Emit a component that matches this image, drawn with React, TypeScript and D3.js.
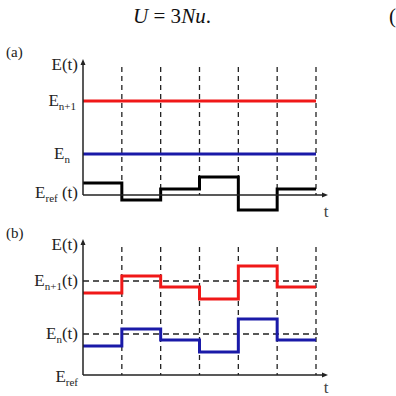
import React from 'react';
import * as d3 from 'd3';

// reference energy fluctuation per time interval (units above E_ref baseline)
const eRef = [1.2, -0.5, 0.6, 1.8, -1.5, 0.6];
const levelN = 4.1;
const levelN1 = 9.4;
const intervalCount = 6;

const W = 396;
const H = 396;

const RED = '#f01818';
const BLUE = '#1a1aa8';
const INK = '#222';

const x = d3.scaleLinear().domain([0, intervalCount]).range([83, 316]);
const yA = d3.scaleLinear().domain([0, 13.5]).range([195, 60]);
const yB = d3.scaleLinear().domain([0, 13.5]).range([375, 240]);

const stepPts = (vals: number[]) => [...vals.map((v, i) => [i, v] as [number, number]), [vals.length, vals[vals.length - 1]] as [number, number]];

const stepLine = (y: d3.ScaleLinear<number, number>) =>
    d3.line<[number, number]>().x(d => x(d[0])).y(d => y(d[1])).curve(d3.curveStepAfter);

const serif = '"Liberation Serif", Tinos, "DejaVu Serif", serif';

const Label = ({ xr, y, main, sub, tail }: { xr: number; y: number; main: string; sub?: string; tail?: string }) => (
    <text x={xr} y={y + 5} textAnchor="end" fontFamily={serif} fontSize={17} fill={INK}>
        {main}
        {sub && <tspan fontSize={11} dy={4}>{sub}</tspan>}
        {tail && <tspan dy={sub ? -4 : 0}>{tail}</tspan>}
    </text>
);

const Panel = ({ y, tag, tagY, tY, children }: { y: d3.ScaleLinear<number, number>; tag: string; tagY: number; tY: number; children: React.ReactNode }) => {
    const y0 = y(0);
    const yTop = y(13.5);
    const ticks = d3.range(1, intervalCount + 1);
    return (
        <g>
            <text x={6} y={tagY} fontFamily={serif} fontSize={15} fill={INK}>{tag}</text>
            {/* dashed interval separators */}
            {ticks.map(t => (
                <line key={t} x1={x(t)} x2={x(t)} y1={yTop + 7} y2={y0} stroke={INK} strokeWidth={1.3} strokeDasharray="5,4" />
            ))}
            {children}
            {/* axes */}
            <line x1={x(0)} x2={x(0)} y1={y0} y2={yTop + 2} stroke={INK} strokeWidth={1.5} />
            <path d={`M${x(0) - 2.5},${yTop + 5} L${x(0)},${yTop - 1} L${x(0) + 2.5},${yTop + 5} Z`} fill={INK} />
            <line x1={x(0)} x2={325} y1={y0} y2={y0} stroke={INK} strokeWidth={1.5} />
            <path d={`M${322},${y0 - 2.5} L${328},${y0} L${322},${y0 + 2.5} Z`} fill={INK} />
            <text x={326} y={tY} fontFamily={serif} fontSize={17} fill="#444" textAnchor="middle">t</text>
            <Label xr={78} y={yTop + 5} main="E(t)" />
        </g>
    );
};

const App = () => {
    const bRed = eRef.map(v => levelN1 - v);
    const bBlue = eRef.map(v => levelN - v);
    return (
        <svg width={W} height={H} style={{ position: 'absolute', left: 0, top: 0, background: '#fff' }}>
            <text x={172} y={23} textAnchor="middle" fontFamily={serif} fontSize={21} fill="#111">
                <tspan fontStyle="italic">U</tspan> =  3<tspan fontStyle="italic">Nu</tspan>.
            </text>
            <text x={389} y={23} fontFamily={serif} fontSize={21} fill="#111">(</text>

            <Panel y={yA} tag="(a)" tagY={57} tY={217}>
                <line x1={x(0)} x2={x(intervalCount)} y1={yA(levelN1)} y2={yA(levelN1)} stroke={RED} strokeWidth={3} />
                <line x1={x(0)} x2={x(intervalCount)} y1={yA(levelN)} y2={yA(levelN)} stroke={BLUE} strokeWidth={3} />
                <path d={stepLine(yA)(stepPts(eRef)) || ''} fill="none" stroke="#000" strokeWidth={3} />
                <Label xr={76} y={yA(levelN1)} main="E" sub="n+1" />
                <Label xr={70} y={yA(levelN)} main="E" sub="n" />
                <Label xr={78} y={yA(0) - 2} main="E" sub="ref" tail=" (t)" />
            </Panel>

            <Panel y={yB} tag="(b)" tagY={238} tY={393}>
                <line x1={x(0)} x2={318} y1={yB(levelN1)} y2={yB(levelN1)} stroke={INK} strokeWidth={1.5} strokeDasharray="6,4" />
                <line x1={x(0)} x2={318} y1={yB(levelN)} y2={yB(levelN)} stroke={INK} strokeWidth={1.5} strokeDasharray="6,4" />
                <path d={stepLine(yB)(stepPts(bRed)) || ''} fill="none" stroke={RED} strokeWidth={3} />
                <path d={stepLine(yB)(stepPts(bBlue)) || ''} fill="none" stroke={BLUE} strokeWidth={3} />
                <Label xr={78} y={yB(levelN1)} main="E" sub="n+1" tail="(t)" />
                <Label xr={78} y={yB(levelN)} main="E" sub="n" tail="(t)" />
                <Label xr={78} y={yB(0) + 2} main="E" sub="ref" />
            </Panel>
        </svg>
    );
};

export default App;
